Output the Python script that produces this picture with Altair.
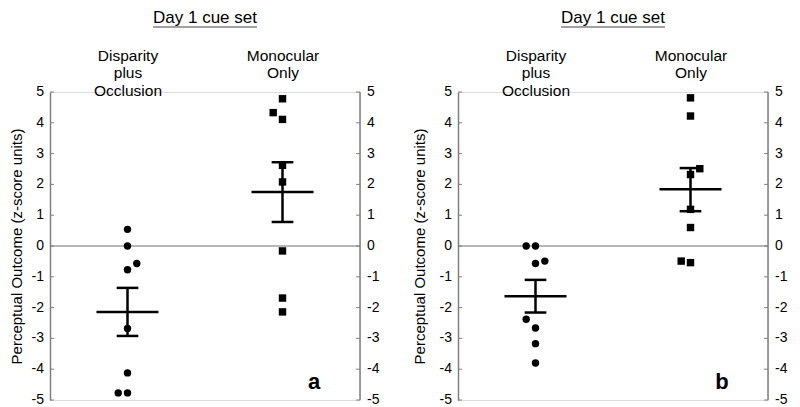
import altair as alt
import pandas as pd

FONT = "Liberation Sans"
GRAY = "#7f7f7f"

groups = ["Disparity plus Occlusion", "Monocular Only"]
tick_values = [-5, -4, -3, -2, -1, 0, 1, 2, 3, 4, 5]

# Panel a
a_dpo = [0.54, 0.0, -0.57, -0.77, -2.68, -4.12, -4.77, -4.77]
a_dpo_jit = [0, 0, 1, 0, 0, 0, -1, 0]
a_mon = [4.78, 4.33, 4.11, 2.62, 2.08, -0.16, -1.69, -2.14]
a_mon_jit = [0, -1, 0, 0, 0, 0, 0, 0]
a_mean = [-2.14, 1.75]
a_lo = [-2.92, 0.78]
a_hi = [-1.36, 2.72]

# Panel b
b_dpo = [0.0, 0.0, -0.49, -0.57, -2.38, -2.66, -3.17, -3.80]
b_dpo_jit = [-1, 0, 1, 0, -1, 0, 0, 0]
b_mon = [4.81, 4.22, 2.51, 2.32, 1.19, 0.60, -0.49, -0.54]
b_mon_jit = [0, 0, 1, 0, 0, 0, -1, 0]
b_mean = [-1.63, 1.84]
b_lo = [-2.16, 1.13]
b_hi = [-1.10, 2.53]

W, H = 310, 308
TICK_FS = 14


def panel(dpo, dpo_j, mon, mon_j, mean, lo, hi, letter, title_pad):
    pts = pd.DataFrame({
        "value": dpo + mon,
        "gi": [0] * len(dpo) + [1] * len(mon),
        "jit": dpo_j + mon_j,
        "group": [groups[0]] * len(dpo) + [groups[1]] * len(mon),
    })
    stats = pd.DataFrame({"gi": [0, 1], "mean": mean, "lo": lo, "hi": hi})
    tk = pd.DataFrame({"t": tick_values, "lab": [str(v) for v in tick_values]})

    xs = alt.Scale(domain=[0, 10], nice=False, zero=False)
    ys = alt.Scale(domain=[-5, 5], nice=False, zero=False)

    y_axis = alt.Axis(
        orient="left", values=tick_values, title="Perceptual Outcome (z-score units)",
        labels=False, ticks=False, grid=False, domainColor=GRAY, domainWidth=1.5,
        titleFont=FONT, titleFontSize=15, titleFontWeight="normal", titleColor="black",
        titlePadding=title_pad)
    x_axis = alt.Axis(
        orient="top", values=[2.5, 7.5], title=None, domain=False, ticks=False, grid=False,
        labelExpr="datum.value < 5 ? ['Disparity', 'plus', 'Occlusion'] : ['Monocular', 'Only']",
        labelFont=FONT, labelFontSize=15.5, labelLineHeight=17.5, labelColor="black",
        labelBaseline="top", labelPadding=44, labelAngle=0, labelFlush=False,
        labelOverlap=False)

    def Y(field):
        return alt.Y(field, scale=ys, axis=y_axis, title="Perceptual Outcome (z-score units)")

    def X(field):
        return alt.X(field, scale=xs, axis=x_axis, title=None)

    zero = alt.Chart(pd.DataFrame({"z": [0]})).mark_rule(
        color="#6e6e6e", strokeWidth=1
    ).encode(y=Y("z:Q"))

    left_ticks = alt.Chart(tk).mark_rule(color=GRAY, strokeWidth=1).encode(
        y=Y("t:Q"), x=alt.value(0), x2=alt.value(4),
    )

    left_labels = alt.Chart(tk).mark_text(
        font=FONT, fontSize=TICK_FS, color="black", align="right", baseline="middle", dx=-6
    ).encode(y=Y("t:Q"), text="lab:N", x=alt.value(0))

    right_ticks = alt.Chart(tk).mark_rule(color=GRAY, strokeWidth=1).encode(
        y=Y("t:Q"), x=alt.value(W - 4), x2=alt.value(W),
    )

    right_domain = alt.Chart(pd.DataFrame({"a": [-5], "b": [5]})).mark_rule(
        color=GRAY, strokeWidth=1.5
    ).encode(y=Y("a:Q"), y2="b:Q", x=alt.value(W))

    right_labels = alt.Chart(tk).mark_text(
        font=FONT, fontSize=TICK_FS, color="black", align="left", baseline="middle", dx=7
    ).encode(y=Y("t:Q"), text="lab:N", x=alt.value(W))

    points = alt.Chart(pts).transform_calculate(
        xpos="datum.gi * 5 + 2.5 + datum.jit * 0.3"
    ).mark_point(filled=True, opacity=1, size=55, color="black").encode(
        x=X("xpos:Q"),
        y=Y("value:Q"),
        shape=alt.Shape("group:N", scale=alt.Scale(domain=groups, range=["circle", "square"]),
                        legend=None),
    )

    mean_bar = alt.Chart(stats).transform_calculate(
        xa="datum.gi * 5 + 1.5", xb="datum.gi * 5 + 3.5"
    ).mark_rule(color="black", strokeWidth=2.5).encode(
        x=X("xa:Q"), x2="xb:Q", y=Y("mean:Q"),
    )

    vert = alt.Chart(stats).transform_calculate(
        xc="datum.gi * 5 + 2.5"
    ).mark_rule(color="black", strokeWidth=2.5).encode(
        x=X("xc:Q"), y=Y("lo:Q"), y2="hi:Q",
    )

    caps = alt.Chart(stats).transform_fold(["lo", "hi"], as_=["k", "v"]).transform_calculate(
        xa="datum.gi * 5 + 2.15", xb="datum.gi * 5 + 2.85"
    ).mark_rule(color="black", strokeWidth=2.5).encode(
        x=X("xa:Q"), x2="xb:Q", y=Y("v:Q"),
    )

    text = alt.Chart(pd.DataFrame({"l": [letter]})).mark_text(
        font=FONT, fontSize=22, fontWeight="bold", align="center", baseline="alphabetic",
        color="black"
    ).encode(text="l:N", x=alt.value(264), y=alt.value(297))

    underline = alt.Chart(pd.DataFrame({"u": [0]})).mark_rule(
        color="#444444", strokeWidth=1
    ).encode(x=alt.value(103), x2=alt.value(207), y=alt.value(-65), y2=alt.value(-65))

    return alt.layer(
        zero, left_ticks, left_labels, right_ticks, right_domain, right_labels,
        points, mean_bar, vert, caps, text, underline,
    ).properties(
        width=W, height=H,
        title=alt.TitleParams("Day 1 cue set", font=FONT, fontSize=17, fontWeight="normal",
                              color="black", anchor="middle", frame="group", offset=0),
    )


pa = panel(a_dpo, a_dpo_jit, a_mon, a_mon_jit, a_mean, a_lo, a_hi, "a", 26)
pb = panel(b_dpo, b_dpo_jit, b_mon, b_mon_jit, b_mean, b_lo, b_hi, "b", 31)

chart = alt.hconcat(pa, pb, spacing=31).properties(
    padding={"left": 0, "top": 0, "right": 0, "bottom": 0}
).configure_view(stroke=None).configure(font=FONT)

chart.save("out.html", embed_options={"renderer": "svg", "actions": False})
